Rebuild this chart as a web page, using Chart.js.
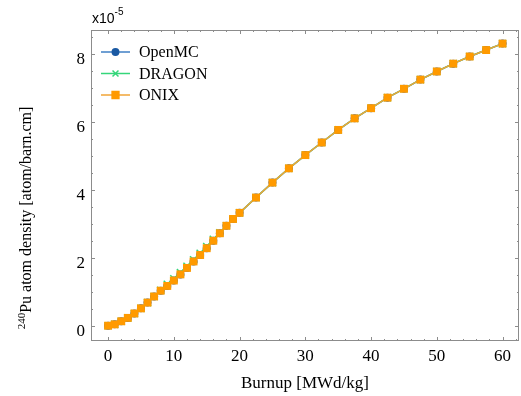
<!DOCTYPE html>
<html>
<head>
<meta charset="utf-8">
<script src="https://cdn.jsdelivr.net/npm/chart.js@4.4.1/dist/chart.umd.min.js"></script>
<style>
  html, body { margin: 0; padding: 0; background: #fff; }
  #wrap { width: 521px; height: 396px; }
</style>
</head>
<body>
<div id="wrap"><canvas id="chart" width="521" height="396"></canvas></div>
<script>
// Burnup steps [MWd/kg]
const burnup = [0, 1, 2, 3, 4, 5, 6, 7, 8, 9, 10, 11, 12, 13, 14, 15, 16, 17, 18, 19, 20,
    22.5, 25, 27.5, 30, 32.5, 35, 37.5, 40, 42.5, 45, 47.5, 50, 52.5, 55, 57.5, 60];

// 240Pu atom density, in units of 1e-5 atom/barn.cm
const onix = [0.00, 0.04, 0.13, 0.23, 0.36, 0.51, 0.68, 0.86, 1.03, 1.17, 1.33, 1.51, 1.70, 1.89, 2.08, 2.28, 2.50, 2.72, 2.94, 3.14, 3.32,
    3.77, 4.21, 4.63, 5.02, 5.39, 5.76, 6.10, 6.40, 6.71, 6.97, 7.24, 7.48, 7.71, 7.92, 8.11, 8.30];
const openmc = [0.00, 0.04, 0.13, 0.23, 0.36, 0.51, 0.68, 0.86, 1.03, 1.17, 1.33, 1.51, 1.70, 1.89, 2.08, 2.28, 2.50, 2.72, 2.94, 3.14, 3.32,
    3.77, 4.21, 4.63, 5.02, 5.39, 5.76, 6.10, 6.40, 6.71, 6.97, 7.24, 7.48, 7.71, 7.92, 8.11, 8.30];
const dragon = [0.00, 0.04, 0.13, 0.23, 0.36, 0.51, 0.68, 0.86, 1.04, 1.22, 1.38, 1.56, 1.75, 1.94, 2.13, 2.33, 2.54, 2.73, 2.94, 3.14, 3.32,
    3.77, 4.21, 4.63, 5.02, 5.39, 5.76, 6.10, 6.40, 6.71, 6.97, 7.24, 7.48, 7.71, 7.92, 8.11, 8.30];

const xTicks = [0, 10, 20, 30, 40, 50, 60];
const yTicks = [0, 2, 4, 6, 8];
const yExponent = '-5';

const serif = '"Liberation Serif", "Times New Roman", serif';

function toPoints(ys) {
    return burnup.map((x, i) => ({ x: x, y: ys[i] }));
}

const series = [
    { label: 'OpenMC', data: openmc, line: '#3f7fc4', fill: '#1b5aa3', style: 'circle', radius: 4, order: 3 },
    { label: 'DRAGON', data: dragon, line: '#34d67a', fill: '#34d67a', style: 'crossRot', radius: 5, order: 2 },
    { label: 'ONIX', data: onix, line: '#f0a537', fill: '#ff9a00', style: 'rect', radius: 5.6, order: 1 }
];

// Box with inward ticks on all four sides
const framePlugin = {
    id: 'frame',
    afterDatasetsDraw(chart) {
        const { ctx, chartArea: a, scales: { x, y } } = chart;
        ctx.save();
        ctx.strokeStyle = '#8c8c8c';
        ctx.lineWidth = 1;
        ctx.strokeRect(a.left + 0.5, a.top + 0.5, a.right - a.left - 1, a.bottom - a.top - 1);

        ctx.beginPath();
        for (let v = 0; v <= 62; v += 2) {
            const px = Math.round(x.getPixelForValue(v)) + 0.5;
            const len = v % 10 === 0 ? 4 : 2;
            ctx.moveTo(px, a.bottom); ctx.lineTo(px, a.bottom - len);
            ctx.moveTo(px, a.top); ctx.lineTo(px, a.top + len);
        }
        for (let v = 0; v <= 8.5; v += 0.5) {
            const py = Math.round(y.getPixelForValue(v)) + 0.5;
            const len = v % 2 === 0 ? 4 : 2;
            ctx.moveTo(a.left, py); ctx.lineTo(a.left + len, py);
            ctx.moveTo(a.right, py); ctx.lineTo(a.right - len, py);
        }
        ctx.stroke();
        ctx.restore();
    }
};

// Legend with line + marker, y title with superscript, exponent label
const annotatePlugin = {
    id: 'annotate',
    afterDraw(chart) {
        const ctx = chart.ctx;
        ctx.save();

        // legend
        ctx.font = '16px ' + serif;
        ctx.textBaseline = 'middle';
        ctx.textAlign = 'left';
        series.forEach((s, i) => {
            const ly = 52 + i * 21.5;
            ctx.strokeStyle = s.line;
            ctx.lineWidth = 1.5;
            ctx.beginPath();
            ctx.moveTo(101, ly);
            ctx.lineTo(130, ly);
            ctx.stroke();
            ctx.fillStyle = s.fill;
            ctx.strokeStyle = s.fill;
            Chart.helpers.drawPoint(ctx, { pointStyle: s.style, radius: s.radius - 0.8, rotation: 0, borderWidth: 1.5 }, 115.5, ly);
            ctx.fillStyle = '#000';
            ctx.fillText(s.label, 139, ly + 1);
        });

        // exponent above the y axis
        ctx.fillStyle = '#000';
        ctx.textBaseline = 'alphabetic';
        ctx.font = '14px "Liberation Sans", Arial, sans-serif';
        ctx.fillText('x10', 92, 23);
        const w = ctx.measureText('x10').width;
        ctx.font = '10px "Liberation Sans", Arial, sans-serif';
        ctx.fillText(yExponent, 92 + w, 15);

        // y axis title
        const sup = '240';
        const main = 'Pu atom density [atom/barn.cm]';
        ctx.translate(31, 218);
        ctx.rotate(-Math.PI / 2);
        ctx.font = '11px ' + serif;
        const w1 = ctx.measureText(sup).width;
        ctx.font = '16px ' + serif;
        const w2 = ctx.measureText(main).width;
        const start = -(w1 + w2) / 2;
        ctx.font = '11px ' + serif;
        ctx.fillText(sup, start, -6);
        ctx.font = '16px ' + serif;
        ctx.fillText(main, start + w1, 0);

        ctx.restore();
    }
};

new Chart(document.getElementById('chart'), {
    type: 'line',
    data: {
        datasets: series.map(s => ({
            label: s.label,
            data: toPoints(s.data),
            borderColor: s.line,
            backgroundColor: s.fill,
            pointBackgroundColor: s.fill,
            pointBorderColor: s.fill,
            pointStyle: s.style,
            pointRadius: s.radius,
            pointBorderWidth: s.style === 'crossRot' ? 1.5 : 0,
            borderWidth: 1.5,
            tension: 0,
            order: s.order
        }))
    },
    plugins: [framePlugin, annotatePlugin],
    options: {
        responsive: false,
        devicePixelRatio: 1,
        animation: false,
        layout: { autoPadding: false, padding: { top: 30, right: 2, left: 0, bottom: 0 } },
        plugins: {
            legend: { display: false },
            tooltip: { enabled: false }
        },
        scales: {
            x: {
                type: 'linear',
                min: -2.6,
                max: 62.5,
                grid: { display: false, drawTicks: false },
                border: { display: false },
                afterBuildTicks: s => { s.ticks = xTicks.map(v => ({ value: v })); },
                afterFit: s => {
                    s.height = 55;
                    s.paddingLeft = 0;
                    s.paddingRight = 0;
                },
                ticks: {
                    color: '#000',
                    font: { family: serif, size: 17 },
                    padding: 5,
                    maxRotation: 0
                },
                title: {
                    display: true,
                    text: 'Burnup [MWd/kg]',
                    color: '#000',
                    font: { family: serif, size: 17 },
                    padding: { top: 0, bottom: 2 }
                }
            },
            y: {
                min: -0.45,
                max: 8.7,
                grid: { display: false, drawTicks: false },
                border: { display: false },
                afterBuildTicks: s => { s.ticks = yTicks.map(v => ({ value: v })); },
                afterFit: s => {
                    s.width = 91;
                    s.paddingTop = 0;
                    s.paddingBottom = 0;
                },
                ticks: {
                    color: '#000',
                    font: { family: serif, size: 17 },
                    padding: 6,
                    labelOffset: 6
                }
            }
        }
    }
});
</script>
</body>
</html>
